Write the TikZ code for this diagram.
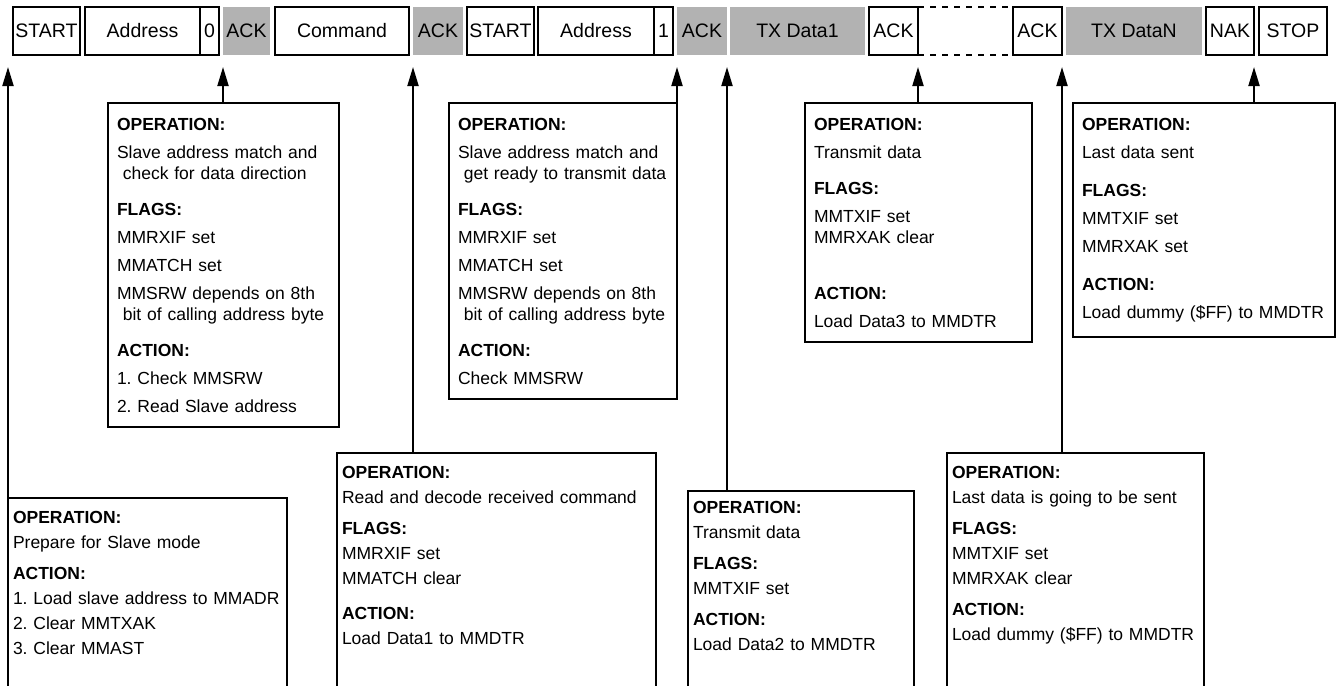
\documentclass[tikz,border=0pt]{standalone}
\usepackage{fontspec}
\setmainfont{Liberation Sans}
\usetikzlibrary{arrows.meta, positioning}
\frenchspacing

\begin{document}
\begin{tikzpicture}[
        x=0.5pt, y=-0.5pt,
        node distance=2pt,
        cell/.style={rectangle, draw=black, line width=1pt, outer sep=0pt, minimum height=24pt, inner xsep=0.5pt, text height=6.9pt, text depth=0pt, font=\fontsize{9.75pt}{11pt}\selectfont},
        ackcell/.style={cell, draw=none, fill=black!30},
        note/.style={rectangle, draw=black, line width=1pt, outer sep=0pt, anchor=north west, align=left, inner xsep=4.5pt, inner ysep=7.5pt, font=\fontsize{8.75pt}{14pt}\selectfont},
        notelow/.style={note, inner xsep=2.5pt, inner ysep=6.5pt, text depth=150pt, font=\fontsize{8.75pt}{12.5pt}\selectfont},
        arrow/.style={-{Triangle[length=9.5pt, width=5.5pt]}, line width=1pt},
        ]
        \path[use as bounding box] (0,0) rectangle (1337,685);

        % Frame cells (top row)
        \node[cell, minimum width=33.5pt, anchor=west] (start1) at (13,31) {START};
        \node[cell, minimum width=57.5pt, right=2.5pt of start1] (addr1) {Address};
        \node[cell, minimum width=9.5pt, right=0pt of addr1] (bit0) {0};
        \node[ackcell, minimum width=23.5pt, right=of bit0] (ack1) {ACK};
        \node[cell, minimum width=67pt, right=2.5pt of ack1] (cmd) {Command};
        \node[ackcell, minimum width=25pt, right=of cmd] (ack2) {ACK};
        \node[cell, minimum width=33.5pt, right=of ack2] (start2) {START};
        \node[cell, minimum width=58pt, right=of start2] (addr2) {Address};
        \node[cell, minimum width=9.5pt, right=0pt of addr2] (bit1) {1};
        \node[ackcell, minimum width=25pt, right=of bit1] (ack3) {ACK};
        \node[ackcell, minimum width=67.5pt, right=1.5pt of ack3] (data1) {TX Data1};
        \node[cell, minimum width=24.5pt, right=of data1] (ack4) {ACK};
        \node[cell, minimum width=24.5pt, right=47.5pt of ack4] (ack5) {ACK};
        \node[ackcell, minimum width=68pt, right=of ack5] (datan) {TX DataN};
        \node[cell, minimum width=24pt, right=of datan] (nak) {NAK};
        \node[cell, minimum width=34pt, right=2.5pt of nak] (stop) {STOP};

        % Skipped frames
        \draw[dashed, line width=1pt] (ack4.north east) -- (ack5.north west);
        \draw[dashed, line width=1pt] (ack4.south east) -- (ack5.south west);

        \coordinate (tip) at ([yshift=-6pt]start1.south);

        % Notes above
        \node[note, text width=106.5pt] (opA) at (108,103) {\textbf{OPERATION:}\\ Slave address match and\\[-3.5pt] \ check for data direction\\[4pt] \textbf{FLAGS:}\\ MMRXIF set\\ MMATCH set\\ MMSRW depends on 8th\\[-3.5pt] \ bit of calling address byte\\[4pt] \textbf{ACTION:}\\ 1. Check MMSRW\\ 2. Read Slave address};
        \node[note, text width=105pt] (opB) at (449,103) {\textbf{OPERATION:}\\ Slave address match and\\[-3.5pt] \ get ready to transmit data\\[4pt] \textbf{FLAGS:}\\ MMRXIF set\\ MMATCH set\\ MMSRW depends on 8th\\[-3.5pt] \ bit of calling address byte\\[4pt] \textbf{ACTION:}\\ Check MMSRW};
        \node[note, text width=104.5pt] (opC) at (805,103) {\textbf{OPERATION:}\\ Transmit data\\[4pt] \textbf{FLAGS:}\\ MMTXIF set\\[-3.5pt] MMRXAK clear\\[14pt] \textbf{ACTION:}\\ Load Data3 to MMDTR};
        \node[note, text width=122pt] (opD) at (1073,103) {\textbf{OPERATION:}\\ Last data sent\\[5pt] \textbf{FLAGS:}\\ MMTXIF set\\ MMRXAK set\\[5pt] \textbf{ACTION:}\\ Load dummy (\$FF) to MMDTR};

        % Notes below
        \node[notelow, text width=134.5pt] (opE) at (8,498) {\textbf{OPERATION:}\\ Prepare for Slave mode\\[3pt] \textbf{ACTION:}\\ 1. Load slave address to MMADR\\ 2. Clear MMTXAK\\ 3. Clear MMAST};
        \node[notelow, text width=154.5pt] (opF) at (337,453) {\textbf{OPERATION:}\\ Read and decode received command\\[3pt] \textbf{FLAGS:}\\ MMRXIF set\\ MMATCH clear\\[5pt] \textbf{ACTION:}\\ Load Data1 to MMDTR};
        \node[notelow, text width=108pt, inner ysep=5pt] (opG) at (688,491) {\textbf{OPERATION:}\\ Transmit data\\[3pt] \textbf{FLAGS:}\\ MMTXIF set\\[3pt] \textbf{ACTION:}\\ Load Data2 to MMDTR};
        \node[notelow, text width=123.5pt] (opH) at (947,453) {\textbf{OPERATION:}\\ Last data is going to be sent\\[3pt] \textbf{FLAGS:}\\ MMTXIF set\\ MMRXAK clear\\[3pt] \textbf{ACTION:}\\ Load dummy (\$FF) to MMDTR};

        % Arrows up to the frame
        \draw[arrow] (opE.north west) -- (opE.north west |- tip);
        \draw[arrow] (ack1.west |- opA.north) -- (ack1.west |- tip);
        \draw[arrow] (ack2.west |- opF.north) -- (ack2.west |- tip);
        \draw[arrow] (ack3.west |- opB.north) -- (ack3.west |- tip);
        \draw[arrow] (ack3.east |- opG.north) -- (ack3.east |- tip);
        \draw[arrow] (ack4.east |- opC.north) -- (ack4.east |- tip);
        \draw[arrow] (ack5.east |- opH.north) -- (ack5.east |- tip);
        \draw[arrow] (nak.east |- opD.north) -- (nak.east |- tip);

    \end{tikzpicture}
\end{document}
